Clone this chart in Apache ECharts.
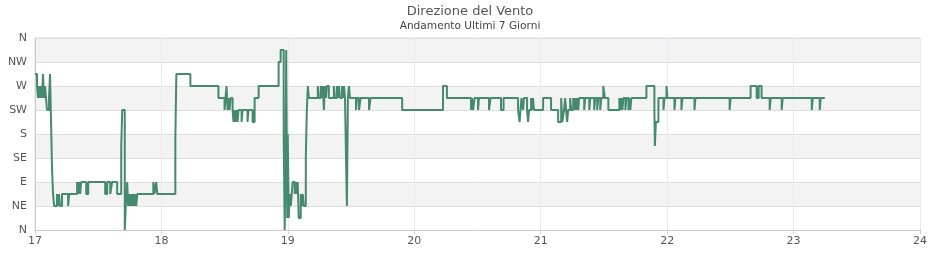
<!DOCTYPE html>
<html><head><meta charset="utf-8">
<script src="https://cdn.jsdelivr.net/npm/echarts@6/dist/echarts.min.js"></script>
<style>html,body{margin:0;padding:0;background:#fff}#c{width:940px;height:260px}</style>
</head><body><div id="c"></div>
<script>
var titleText = 'Direzione del Vento';
var subtitleText = 'Andamento Ultimi 7 Giorni';
var dirLabels = ['N','NE','E','SE','S','SW','W','NW','N'];
var dayTicks = [17,18,19,20,21,22,23,24];
// time (day of month, fractional) at which each reading starts
var times = [
17.000,17.016,17.024,17.032,17.040,17.048,17.056,17.063,17.071,17.079,17.087,17.095,17.111,17.119,17.127,17.135,17.143,17.151,
17.174,17.182,17.190,17.198,17.214,17.262,17.270,17.333,17.341,17.349,17.357,17.365,17.405,17.421,17.555,17.571,17.595,17.610,
17.650,17.682,17.690,17.710,17.718,17.729,17.737,17.745,17.753,17.761,17.769,17.777,17.785,17.793,17.801,17.809,17.936,17.944,
17.959,17.967,18.110,18.118,18.229,18.451,18.499,18.507,18.515,18.523,18.531,18.539,18.547,18.563,18.570,18.578,18.586,18.594,
18.602,18.610,18.634,18.642,18.681,18.689,18.721,18.737,18.769,18.927,18.943,18.967,18.975,18.983,18.987,18.995,18.999,19.007,
19.015,19.023,19.031,19.038,19.054,19.062,19.070,19.078,19.086,19.102,19.110,19.118,19.126,19.142,19.150,19.158,19.166,19.237,
19.245,19.261,19.269,19.277,19.285,19.293,19.301,19.308,19.324,19.364,19.372,19.388,19.396,19.404,19.412,19.428,19.436,19.444,
19.452,19.459,19.467,19.475,19.483,19.491,19.539,19.547,19.563,19.575,19.642,19.654,19.904,20.227,20.258,20.449,20.457,20.465,
20.477,20.504,20.512,20.591,20.603,20.686,20.706,20.821,20.833,20.840,20.848,20.860,20.868,20.892,20.900,20.908,20.924,20.932,
20.939,20.947,21.019,21.082,21.138,21.162,21.170,21.185,21.193,21.201,21.209,21.217,21.233,21.241,21.257,21.265,21.273,21.281,
21.289,21.297,21.304,21.344,21.352,21.384,21.392,21.423,21.431,21.447,21.455,21.471,21.479,21.495,21.507,21.535,21.622,21.630,
21.638,21.646,21.654,21.670,21.678,21.694,21.701,21.709,21.717,21.836,21.899,21.903,21.911,21.931,21.971,21.979,21.995,22.002,
22.058,22.066,22.113,22.121,22.216,22.224,22.494,22.502,22.660,22.708,22.724,22.747,22.811,22.819,22.906,22.914,23.144,23.152,
23.207,23.215,23.247
];
// wind direction in degrees for each reading
var directions = [
292.5,270,247.5,270,247.5,270,247.5,292.5,247.5,270,247.5,225,247.5,292.5,202.5,112.5,67.5,45,
67.5,45,67.5,45,67.5,45,67.5,90,67.5,90,67.5,90,67.5,90,67.5,90,67.5,90,
67.5,157.5,225,0,45,90,45,67.5,45,67.5,45,67.5,45,67.5,45,67.5,90,67.5,
90,67.5,170,292.5,270,247.5,225,247.5,270,225,247.5,225,247.5,225,202.5,225,202.5,225,
202.5,225,202.5,225,202.5,225,202.5,247.5,270,315,337.5,180,0,157.5,337.5,22.5,180,22.5,
67.5,45,67.5,90,67.5,90,67.5,90,22.5,67.5,45,67.5,45,135,225,270,247.5,270,
247.5,270,247.5,270,225,270,247.5,270,247.5,270,247.5,270,247.5,270,247.5,270,247.5,270,
247.5,150,45,247.5,270,247.5,225,247.5,225,247.5,225,247.5,225,270,247.5,225,247.5,225,
247.5,225,247.5,225,247.5,225,247.5,225,202.5,225,247.5,225,247.5,225,202.5,225,247.5,225,
247.5,225,247.5,225,202.5,247.5,202.5,225,247.5,225,202.5,225,247.5,225,247.5,225,247.5,225,
247.5,225,247.5,225,247.5,225,247.5,225,247.5,225,247.5,225,247.5,270,247.5,225,247.5,225,
247.5,225,247.5,225,247.5,225,247.5,225,247.5,270,225,157.5,202.5,247.5,225,247.5,270,247.5,
225,247.5,225,247.5,225,247.5,225,247.5,270,247.5,270,247.5,225,247.5,225,247.5,225,247.5,
225,247.5,247.5
];

var chart = echarts.init(document.getElementById('c'), null, {renderer:'canvas'});
var data = times.map(function(t,i){ return [t, directions[i]]; });
var font = 'DejaVu Sans, sans-serif';
chart.setOption({
  animation:false,
  backgroundColor:'#ffffff',
  title:{
    text:titleText, subtext:subtitleText, left:'center', top:0, itemGap:3,
    textStyle:{fontFamily:font, fontSize:13, fontWeight:'normal', color:'#555555'},
    subtextStyle:{fontFamily:font, fontSize:10.6, color:'#444444'}
  },
  grid:{left:35, right:20, top:38, bottom:30, show:true, borderColor:'#dddddd', borderWidth:1, backgroundColor:'transparent'},
  xAxis:{
    type:'value', min:dayTicks[0], max:dayTicks[dayTicks.length-1], interval:1,
    axisLine:{show:true, lineStyle:{color:'#cccccc'}},
    axisTick:{show:true, length:4, lineStyle:{color:'#cccccc'}},
    axisLabel:{fontFamily:font, fontSize:11, color:'#555555', margin:6,
      formatter:function(v){ return dayTicks.indexOf(v) >= 0 ? String(v) : ''; }},
    splitLine:{show:true, lineStyle:{color:'#e8e8f6', width:1}}
  },
  yAxis:{
    type:'value', min:0, max:360, interval:45,
    axisLine:{show:true, lineStyle:{color:'#cccccc'}},
    axisTick:{show:false},
    axisLabel:{fontFamily:font, fontSize:11, color:'#555555', margin:8,
      formatter:function(v){ return dirLabels[Math.round(v/45)]; }},
    splitLine:{show:true, lineStyle:{color:'#dddddd', width:1}},
    splitArea:{show:true, areaStyle:{color:['#ffffff','#f3f3f3']}}
  },
  series:[{
    type:'line', step:'end', showSymbol:false, data:data,
    lineStyle:{color:'#458a6d', width:2},
    itemStyle:{color:'#458a6d'}
  }]
});
</script>
</body></html>
